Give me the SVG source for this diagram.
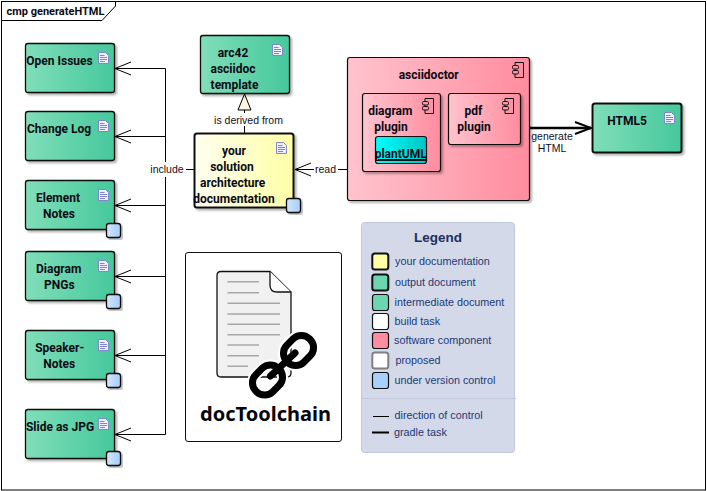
<svg xmlns="http://www.w3.org/2000/svg" xmlns:xlink="http://www.w3.org/1999/xlink" width="707" height="491" viewBox="0 0 707 491">
<style>
text{font-family:"Liberation Sans",Arial,sans-serif;fill:#000}
.n{font-family:Roboto,"Liberation Sans",sans-serif;font-size:12px;font-weight:bold;text-anchor:middle;fill:#0a0a14}
.l{font-size:10.500px;text-anchor:middle;fill:#10101c}
.g{font-size:10.800px;fill:#1c3a78}
.doc{fill:url(#green);stroke:#111;stroke-width:1.3}
.blue{fill:url(#bl);stroke:#111;stroke-width:1.3}
.con{fill:none;stroke:#000;stroke-width:1}
.sw{stroke:#111;stroke-width:1.2}
.gl{stroke:#a8a8a8;stroke-width:1.4}
</style>
<defs>
<linearGradient id="green"><stop offset="0" stop-color="#80deba"/><stop offset="1" stop-color="#46c89c"/></linearGradient>
<linearGradient id="yel"><stop offset="0" stop-color="#fffff0"/><stop offset="1" stop-color="#ffffa6"/></linearGradient>
<linearGradient id="pink"><stop offset="0" stop-color="#ffc4ce"/><stop offset="1" stop-color="#ff8c9f"/></linearGradient>
<linearGradient id="cyan"><stop offset="0" stop-color="#00ffff"/><stop offset="1" stop-color="#00c4c4"/></linearGradient>
<linearGradient id="bl"><stop offset="0" stop-color="#d4e6fb"/><stop offset="1" stop-color="#a6cdfa"/></linearGradient>
<filter id="sh" x="-10%" y="-10%" width="125%" height="125%"><feDropShadow dx="2" dy="2" stdDeviation="1.2" flood-color="#000" flood-opacity=".3"/></filter>
<g id="di">
<path d="M.5 .5H7.5L10.5 3.500V11.500H.5Z" fill="#eef0fb" stroke="#7f86cc"/>
<path d="M2 3.500H6.500M2 5.500H9M2 7.500H9M2 9.500H7" stroke="#7f86cc" stroke-width="1"/>
</g>
<g id="ci">
<path d="M3 .5H11.500V15.500H3V12M3 8.500V7M3 3.500V.5" fill="none" stroke="#111" stroke-width="1"/>
<rect x=".5" y="3.500" width="6" height="3.500" rx="1.200" fill="none" stroke="#111"/>
<rect x=".5" y="8.500" width="6" height="3.500" rx="1.200" fill="none" stroke="#111"/>
</g>
<path id="oa" d="M16 -6.500L0 0L16 6.500" fill="none" stroke="#000"/>
</defs>
<rect width="707" height="491" fill="#fff"/>
<g id="frame">
<rect x="1.500" y="1.500" width="704" height="488.500" fill="none" stroke="#000"/>
<path d="M1.500 20.500H102L115.500 6V1.500" fill="none" stroke="#000"/>
<text x="6.500" y="15" style="font-family:Roboto,sans-serif;font-size:11px;font-weight:bold;fill:#0a0a14">cmp generateHTML</text>
</g>
<g id="connectors">
<path class="con" d="M115 68.500H165.500V434.500H115M115 136.500H165.500M115 205.500H165.500M115 276.500H165.500M115 355.500H165.500M165.500 169.500H194"/>
<use xlink:href="#oa" href="#oa" x="115" y="68.500"/>
<use xlink:href="#oa" href="#oa" x="115" y="136.500"/>
<use xlink:href="#oa" href="#oa" x="115" y="205.500"/>
<use xlink:href="#oa" href="#oa" x="115" y="276.500"/>
<use xlink:href="#oa" href="#oa" x="115" y="355.500"/>
<use xlink:href="#oa" href="#oa" x="115" y="434.500"/>
<path class="con" d="M295 169.500H347"/>
<use xlink:href="#oa" href="#oa" x="295" y="169.500"/>
<path class="con" d="M244.500 110V133"/>
<path d="M244.500 94L238 110H251Z" fill="#fdf3e3" stroke="#000"/>
<path d="M530 128H591" fill="none" stroke="#000" stroke-width="2.500"/>
<path d="M575 122L591 128L575 134" fill="none" stroke="#000" stroke-width="2"/>
<rect x="148" y="162" width="38" height="15" fill="#fff"/>
<text class="l" x="167" y="173">include</text>
<rect x="314" y="162" width="24" height="15" fill="#fff"/>
<text class="l" x="325.500" y="173">read</text>
<rect x="213" y="113" width="71" height="13" fill="#fff"/>
<text class="l" x="248.500" y="124">is derived from</text>
<text class="l" x="552" y="140">generate</text>
<text class="l" x="552" y="152">HTML</text>
</g>
<g id="open-issues"><rect class="doc" filter="url(#sh)" x="25.500" y="43.500" width="89" height="49" rx="2.500"/><use xlink:href="#di" href="#di" x="98" y="52"/><text class="n" x="59.500" y="65">Open Issues</text></g>
<g id="change-log"><rect class="doc" filter="url(#sh)" x="25.500" y="111.500" width="89" height="49" rx="2.500"/><use xlink:href="#di" href="#di" x="98" y="120"/><text class="n" x="59" y="133">Change Log</text></g>
<g id="element-notes"><rect class="doc" filter="url(#sh)" x="25.500" y="180.500" width="89" height="49" rx="2.500"/><use xlink:href="#di" href="#di" x="98" y="189"/><text class="n" x="58" y="202">Element</text><text class="n" x="59" y="218">Notes</text><rect class="blue" filter="url(#sh)" x="106.500" y="223.500" width="14" height="14" rx="2.500"/></g>
<g id="diagram-pngs"><rect class="doc" filter="url(#sh)" x="25.500" y="251.500" width="89" height="49" rx="2.500"/><use xlink:href="#di" href="#di" x="98" y="260"/><text class="n" x="58.700" y="273">Diagram</text><text class="n" x="59.300" y="289">PNGs</text><rect class="blue" filter="url(#sh)" x="106.500" y="294.500" width="14" height="14" rx="2.500"/></g>
<g id="speaker-notes"><rect class="doc" filter="url(#sh)" x="25.500" y="330.500" width="89" height="49" rx="2.500"/><use xlink:href="#di" href="#di" x="98" y="339"/><text class="n" x="59.700" y="352">Speaker-</text><text class="n" x="59.300" y="368">Notes</text><rect class="blue" filter="url(#sh)" x="106.500" y="373.500" width="14" height="14" rx="2.500"/></g>
<g id="slide-jpg"><rect class="doc" filter="url(#sh)" x="25.500" y="409.500" width="89" height="49" rx="2.500"/><use xlink:href="#di" href="#di" x="98" y="418"/><text class="n" x="60" y="431">Slide as JPG</text><rect class="blue" filter="url(#sh)" x="106.500" y="451.500" width="14" height="14" rx="2.500"/></g>
<g id="arc42"><rect class="doc" filter="url(#sh)" x="200.500" y="35.500" width="89" height="58" rx="2.500"/><use xlink:href="#di" href="#di" x="272" y="44"/><text class="n" x="233" y="57">arc42</text><text class="n" x="233" y="73">asciidoc</text><text class="n" x="234.500" y="89">template</text></g>
<g id="your-doc"><rect filter="url(#sh)" x="194.500" y="133.500" width="99" height="74" rx="2.500" fill="url(#yel)" stroke="#111" stroke-width="2"/><use xlink:href="#di" href="#di" x="276" y="142"/><text class="n" x="234" y="155">your</text><text class="n" x="232" y="171">solution</text><text class="n" x="232.700" y="187">architecture</text><text class="n" x="234" y="203">documentation</text><rect class="blue" filter="url(#sh)" x="286.500" y="198.500" width="14" height="14" rx="2.500"/></g>
<g id="asciidoctor"><rect filter="url(#sh)" x="347.500" y="57.500" width="182" height="143" rx="2.500" fill="url(#pink)" stroke="#111" stroke-width="1.200"/><use xlink:href="#ci" href="#ci" x="512" y="62"/><text class="n" x="428.700" y="79">asciidoctor</text></g>
<g id="diagram-plugin"><rect filter="url(#sh)" x="362.500" y="93.500" width="78" height="78" rx="2.500" fill="url(#pink)" stroke="#111" stroke-width="1.200"/><use xlink:href="#ci" href="#ci" x="422" y="98"/><text class="n" x="390.300" y="115">diagram</text><text class="n" x="391" y="131">plugin</text></g>
<g id="plantuml"><rect x="375.500" y="136.500" width="51" height="27" rx="2.500" fill="url(#cyan)" stroke="#111" stroke-width="1.200"/><path d="M376 160.500H426" stroke="#111"/><text class="n" x="400.700" y="158" text-decoration="underline">plantUML</text></g>
<g id="pdf-plugin"><rect filter="url(#sh)" x="448.500" y="93.500" width="72" height="51" rx="2.500" fill="url(#pink)" stroke="#111" stroke-width="1.200"/><use xlink:href="#ci" href="#ci" x="502" y="98"/><text class="n" x="473.300" y="115">pdf</text><text class="n" x="474" y="131">plugin</text></g>
<g id="html5"><rect filter="url(#sh)" x="592.500" y="103.500" width="89" height="49" rx="2.500" fill="url(#green)" stroke="#111" stroke-width="2"/><use xlink:href="#di" href="#di" x="664" y="112"/><text class="n" x="627" y="124.500">HTML5</text></g>
<g id="doctoolchain">
<rect x="185.500" y="252.500" width="156" height="189" rx="2.500" fill="#fff" stroke="#111"/>
<path d="M221 271.500H270L291 292V373Q291 377 287 377H221Q217 377 217 373V275.500Q217 271.500 221 271.500Z" fill="#f1f1f1" stroke="#111" stroke-width="1.300"/>
<path d="M270 271.500V285Q270 292 277 292H291" fill="#fff" stroke="#111" stroke-width="1.300"/>
<path class="gl" d="M227.500 281.700H259M227.500 292.700H259M227.500 303.300H280M227.500 314H280M227.500 324.300H280M227.500 334.700H280M227.500 345H259M227.500 355.700H259M227.500 366.300H248"/>
<g fill="none" stroke-linecap="round">
<rect x="-16" y="-12" width="32" height="24" rx="11.500" transform="translate(298.500 350.500) rotate(-45)" stroke="#fff" stroke-width="11"/>
<rect x="-16" y="-12" width="32" height="24" rx="11.500" transform="translate(267.500 380) rotate(-45)" stroke="#fff" stroke-width="11"/>
<rect x="-16" y="-12" width="32" height="24" rx="11.500" transform="translate(298.500 350.500) rotate(-45)" stroke="#000" stroke-width="7"/>
<rect x="-16" y="-12" width="32" height="24" rx="11.500" transform="translate(267.500 380) rotate(-45)" stroke="#000" stroke-width="7"/>
<path d="M270.500 376L295 353" stroke="#000" stroke-width="7"/>
</g>
<text x="265.500" y="421" style="font-family:'Noto Sans',sans-serif;font-size:20px;font-weight:bold;text-anchor:middle;fill:#05050f">docToolchain</text>
</g>
<g id="legend">
<rect x="361.500" y="222.500" width="153" height="230" rx="3" fill="#d3d9e8" stroke="#c2c8dc"/>
<text x="438" y="242" style="font-size:13.500px;font-weight:bold;text-anchor:middle;fill:#1c2f60">Legend</text>
<rect x="372.300" y="253.500" width="16" height="16" rx="2.500" fill="#ffffa6" stroke="#111" stroke-width="2"/>
<rect x="372.300" y="274.500" width="16" height="16" rx="2.500" fill="#6bd6b0" stroke="#111" stroke-width="2"/>
<rect class="sw" x="372.500" y="294.500" width="16" height="16" rx="2.500" fill="#6bd6b0"/>
<rect class="sw" x="372.500" y="313.500" width="16" height="16" rx="2.500" fill="#fff"/>
<rect class="sw" x="372.500" y="332.500" width="16" height="16" rx="2.500" fill="#ff8ca0"/>
<rect x="372.300" y="352.500" width="16" height="16" rx="2.500" fill="#fff" stroke="#808080" stroke-width="2"/>
<rect class="sw" x="372.500" y="372.500" width="16" height="16" rx="2.500" fill="#a8d0fa"/>
<text class="g" x="395" y="265">your documentation</text>
<text class="g" x="395" y="286">output document</text>
<text class="g" x="394.500" y="306">intermediate document</text>
<text class="g" x="394.500" y="325">build task</text>
<text class="g" x="394" y="344">software component</text>
<text class="g" x="395.500" y="364">proposed</text>
<text class="g" x="394.500" y="384">under version control</text>
<path d="M361.500 398.500H516" stroke="#c2c8dc"/>
<path d="M373 416.500H389" stroke="#000"/>
<path d="M372 432.500H389" stroke="#000" stroke-width="2"/>
<text class="g" x="394.500" y="419">direction of control</text>
<text class="g" x="394" y="436">gradle task</text>
</g>
</svg>
